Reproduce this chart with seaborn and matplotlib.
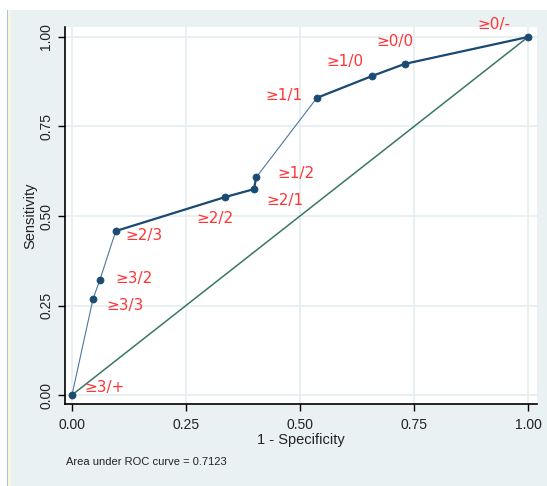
import numpy as np
import pandas as pd
import matplotlib
matplotlib.use("Agg")
import matplotlib.pyplot as plt
from matplotlib.patches import Rectangle
import seaborn as sns

# ---- data ----
one_minus_spec = [0.0, 0.046, 0.061, 0.096, 0.336, 0.399, 0.404, 0.537, 0.658, 0.730, 1.0]
sensitivity    = [0.0, 0.268, 0.321, 0.458, 0.553, 0.575, 0.608, 0.830, 0.891, 0.925, 1.0]
cut_labels = ["≥3/+", "≥3/3", "≥3/2", "≥2/3", "≥2/2", "≥2/1", "≥1/2",
              "≥1/1", "≥1/0", "≥0/0", "≥0/-"]
ref_line = [0.0, 1.0]
ticks = [0.0, 0.25, 0.5, 0.75, 1.0]
tick_labels = ["0.00", "0.25", "0.50", "0.75", "1.00"]
auc_text = "Area under ROC curve = 0.7123"

# label offsets (pixels) for the marker labels
label_offsets = [(12, 8), (13, -6), (16, 2), (10, -4), (-29, -21), (12, -11),
                 (21, 4), (-51, 2), (-46, 15), (-28, 22), (-51, 12)]

sns.set_theme(style="white")
plt.rcParams["font.family"] = ["Liberation Sans", "DejaVu Sans"]

W, H, DPI = 547, 486, 100
fig = plt.figure(figsize=(W / DPI, H / DPI), dpi=DPI)
fig.patch.set_facecolor("white")

# outer Stata-like panel
def px_rect(x0, y0, x1, y1, color):
    fig.patches.append(Rectangle((x0 / W, 1 - y1 / H), (x1 - x0) / W, (y1 - y0) / H,
                                 transform=fig.transFigure, facecolor=color,
                                 edgecolor="none", zorder=-5))

px_rect(7, 10, 547, 486, "#EAF1F3")
px_rect(7, 10, 8, 486, "#A9C6DE")
px_rect(8, 10, 11, 486, "#FBF6E0")

# axes placement
ax_l, ax_r, ax_t, ax_b = 65, 537, 27, 404
ax = fig.add_axes([ax_l / W, 1 - ax_b / H, (ax_r - ax_l) / W, (ax_b - ax_t) / H])
ax.set_zorder(2)
ax.set_facecolor("white")

df = pd.DataFrame({"fpr": one_minus_spec, "tpr": sensitivity, "label": cut_labels})

# reference diagonal
sns.lineplot(x=ref_line, y=ref_line, ax=ax, color="#3A7668", lw=1.1, zorder=3)

# ROC curve: thin base line, thicker over shallow segments
sns.lineplot(data=df, x="fpr", y="tpr", ax=ax, color="#4F76A0", lw=0.8,
             sort=False, estimator=None, zorder=4)
fpr = np.array(one_minus_spec)
tpr = np.array(sensitivity)
for i in range(len(fpr) - 1):
    dx = fpr[i + 1] - fpr[i]
    dy = tpr[i + 1] - tpr[i]
    if dx == 0 or abs(dy / dx) < 1.5 or abs(dx) < 0.01:
        ax.plot(fpr[i:i + 2], tpr[i:i + 2], color="#1B4A73", lw=1.6,
                solid_capstyle="round", zorder=5)
sns.scatterplot(data=df, x="fpr", y="tpr", ax=ax, color="#1B4A73", s=26,
                edgecolor="#1B4A73", linewidth=0.5, zorder=6)

for (x, y, lab), (ox, oy) in zip(zip(one_minus_spec, sensitivity, cut_labels), label_offsets):
    ax.annotate(lab, xy=(x, y), xytext=(ox, oy), textcoords="offset pixels",
                ha="left", va="center", color="#FF3535", fontsize=11,
                family=["DejaVu Sans"], zorder=7, annotation_clip=False)

ax.set_xlim(-7 / 456, 465 / 456)
ax.set_ylim(-9 / 358, 1 + 10 / 358)
ax.set_xticks(ticks)
ax.set_xticklabels(tick_labels)
ax.set_yticks(ticks)
ax.set_yticklabels(tick_labels, rotation=90, va="center")

ax.grid(True, color="#E4EDF0", lw=1.2, zorder=0)
ax.set_axisbelow(True)
for s in ["top", "right"]:
    ax.spines[s].set_visible(False)
for s in ["left", "bottom"]:
    ax.spines[s].set_visible(True)
    ax.spines[s].set_color("black")
    ax.spines[s].set_linewidth(1.2)

ax.tick_params(axis="both", which="major", direction="out", length=5, width=1,
               color="black", labelsize=10, labelcolor="#222222", left=True, bottom=True)
ax.tick_params(axis="x", pad=5)
ax.tick_params(axis="y", pad=3.5)

ax.set_xlabel("1 - Specificity", fontsize=10.5, color="#222222")
ax.set_ylabel("Sensitivity", fontsize=10.5, color="#222222")
ax.xaxis.set_label_coords(0.5, (ax_b - 433) / (ax_b - ax_t))
ax.xaxis.label.set_va("top")
ax.yaxis.set_label_coords((30 - ax_l) / (ax_r - ax_l), 0.5)
ax.yaxis.label.set_va("center")

fig.text(66 / W, 1 - 462 / H, auc_text, fontsize=8, color="#222222",
         ha="left", va="center")

fig.savefig("out.png", dpi=DPI)
